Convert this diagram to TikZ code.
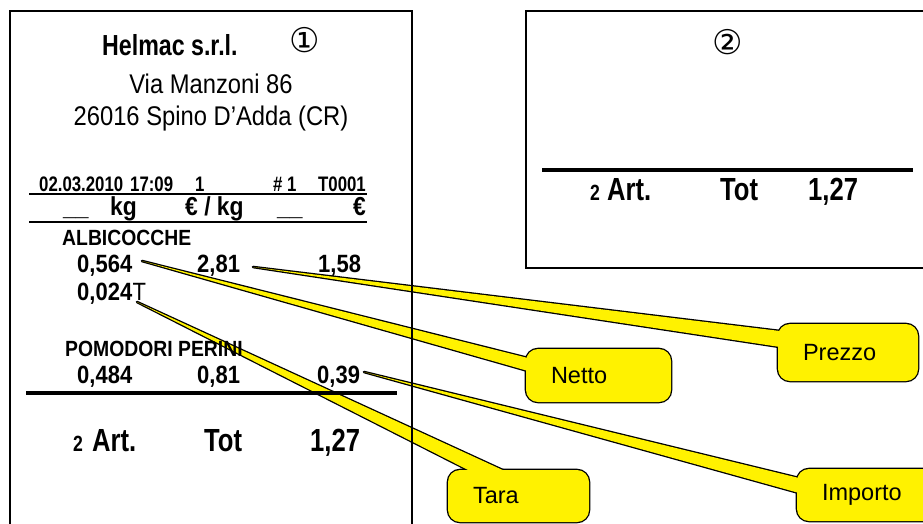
\documentclass[tikz,border=0pt]{standalone}
\usepackage{fontspec}
\setmainfont{Liberation Sans}
\newfontfamily\nA[FakeStretch=0.80]{Liberation Sans}
\newfontfamily\nB[FakeStretch=0.88]{Liberation Sans}
\newfontfamily\symf{DejaVu Sans}
\newcommand\fsz[1]{\fontsize{#1}{#1}\selectfont}
\begin{document}
\begin{tikzpicture}[x=1pt,y=-1pt,
  txt/.style={inner sep=0pt, anchor=base west},
  hd/.style={txt, font=\nA\bfseries\fsz{21}},
  col/.style={txt, font=\nB\bfseries\fsz{26}},
  item/.style={txt, font=\nB\bfseries\fsz{22}},
  num/.style={txt, font=\nB\bfseries\fsz{25}},
  big/.style={txt, font=\nA\bfseries\fsz{32}},
  small/.style={txt, font=\nA\bfseries\fsz{22}},
  frame/.style={line width=1.5pt},
  cstroke/.style={draw=black, line width=2.6pt, line join=round},
  cfill/.style={fill=yellow},
  cbox/.style n args={2}{rectangle, rounded corners=12pt, minimum width=#1, minimum height=#2, inner sep=0pt},
  clabel/.style={fill=yellow, inner xsep=25pt, align=left, font=\fsz{23.5}},
]
\useasboundingbox (0,0) rectangle (923,523);
\clip (0,0) rectangle (923,523);

% ---------- callout geometry ----------
\coordinate (tPrezzo) at (253,267);
\coordinate (aPrezzo) at (780,331);
\coordinate (bPrezzo) at (780,347);
\coordinate (tNetto) at (142,261);
\coordinate (aNetto) at (528,358);
\coordinate (bNetto) at (528,371);
\coordinate (tTara) at (137,302);
\coordinate (aTara) at (472,472);
\coordinate (bTara) at (507,472);
\coordinate (tImporto) at (364,372);
\coordinate (aImporto) at (799,478);
\coordinate (bImporto) at (799,493);

% outlines (outer half stays visible)
\draw[cstroke] (tPrezzo) -- (aPrezzo) -- (bPrezzo) -- cycle;
\draw[cstroke] (tNetto) -- (aNetto) -- (bNetto) -- cycle;
\draw[cstroke] (tTara) -- (aTara) -- (bTara) -- cycle;
\draw[cstroke] (tImporto) -- (aImporto) -- (bImporto) -- cycle;
\node[cbox={140pt}{57pt}, draw, line width=2.6pt] (oPrezzo) at (848,352.5) {};
\node[cbox={145pt}{53pt}, draw, line width=2.6pt] (oNetto) at (598.5,375.5) {};
\node[cbox={141pt}{52pt}, draw, line width=2.6pt] (oTara) at (518.5,496) {};
\node[cbox={141pt}{52pt}, draw, line width=2.6pt] (oImporto) at (867.5,495) {};
% fills
\fill[cfill] (tPrezzo) -- (aPrezzo) -- (bPrezzo) -- cycle;
\fill[cfill] (tNetto) -- (aNetto) -- (bNetto) -- cycle;
\fill[cfill] (tTara) -- (aTara) -- (bTara) -- cycle;
\fill[cfill] (tImporto) -- (aImporto) -- (bImporto) -- cycle;
\node[cbox={140pt}{57pt}, clabel, text width=90pt] (prezzo) at (848,352.5) {Prezzo};
\node[cbox={145pt}{53pt}, clabel, text width=95pt] (netto) at (598.5,375.5) {Netto};
\node[cbox={141pt}{52pt}, clabel, text width=91pt] (tara) at (518.5,496) {Tara};
\node[cbox={141pt}{52pt}, clabel, text width=91pt] (importo) at (867.5,495) {Importo};

% ---------- receipt 1 ----------
\draw[frame] (10,540) -- (10,11) -- (412,11) -- (412,540);
\node[txt, font=\nA\bfseries\fsz{29}] (helmac) at (102,55) {Helmac s.r.l.};
\node[font=\symf\fsz{34}, inner sep=0pt] (one) at (305,40) {①};
\node[inner sep=0pt, anchor=base, font=\nB\fsz{27}] (via) at (211,93) {Via Manzoni 86};
\node[inner sep=0pt, anchor=base, font=\nB\fsz{27}] (city) at (211,125) {26016 Spino D’Adda (CR)};

\node[hd] (date) at (39,191) {02.03.2010};
\node[hd] (time) at (130,191) {17:09};
\node[hd] (op) at (195,191) {1};
\node[hd] (nr) at (273,191) {\# 1};
\node[hd] (till) at (318,191) {T0001};
\draw[line width=2pt] (29,193.5) -- (367,193.5);

\node[col] (u1) at (63,215) {\_\_};
\node[col] (kg) at (110,215) {kg};
\node[col] (ekg) at (185,215) {€ / kg};
\node[col] (u2) at (277,215) {\_\_};
\node[col] (eur) at (353,215) {€};
\draw[line width=2.5pt] (29,222) -- (367,222);

\node[item] (albi) at (62,245) {ALBICOCCHE};
\node[num] (a1) at (77,272) {0,564};
\node[num] (a2) at (197,272) {2,81};
\node[num] (a3) at (318,272) {1,58};
\node[num] (a4) at (77,300) {0,024};
\node[txt, font=\nB\fsz{25}] (a5) at (a4.base east) {T};

\node[item] (pomo) at (65,356) {POMODORI PERINI};
\node[num] (p1) at (77,383) {0,484};
\node[num] (p2) at (197,383) {0,81};
\node[num] (p3) at (317,383) {0,39};
\draw[line width=4pt] (26,393) -- (397,393);

\node[small] (n1) at (73,451) {2};
\node[big] (art1) at (92,451) {Art.};
\node[big] (tot1) at (204,451) {Tot};
\node[big] (sum1) at (310,451) {1,27};

% ---------- receipt 2 ----------
\draw[frame] (940,11) -- (526,11) -- (526,268) -- (940,268);
\node[font=\symf\fsz{34}, inner sep=0pt] (two) at (728,42) {②};
\draw[line width=4pt] (542,170) -- (913,170);
\node[small] (n2) at (590,200) {2};
\node[big] (art2) at (607,200) {Art.};
\node[big] (tot2) at (720,200) {Tot};
\node[big] (sum2) at (808,200) {1,27};
\end{tikzpicture}
\end{document}
